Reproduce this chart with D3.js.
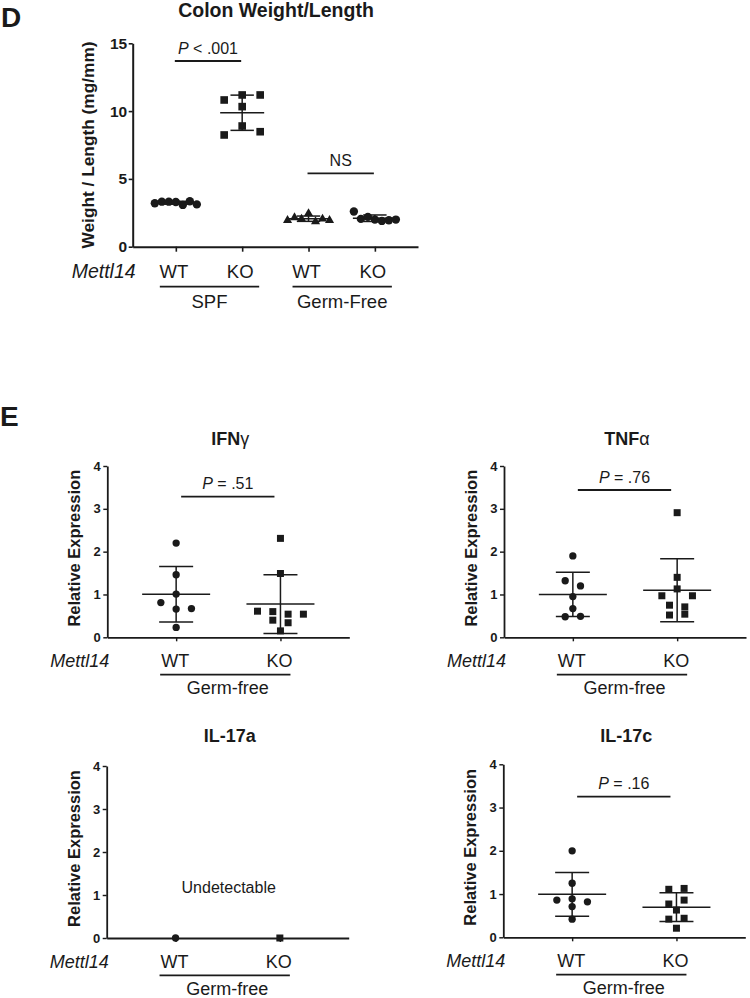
<!DOCTYPE html>
<html><head><meta charset="utf-8">
<script src="https://cdn.jsdelivr.net/npm/d3@7"></script>
<style>
body{margin:0;background:#fff}
svg{display:block}
text{font-family:"Liberation Sans",Arial,Helvetica,sans-serif;fill:#1a1a1a}
</style>
</head><body>
<svg id="chart" width="750" height="998"></svg>
<script>
// ---------------- Panel D data ----------------
const dCategories = ["SPF WT", "SPF KO", "GF WT", "GF KO"];
const dCategoryLabels = ["WT", "KO", "WT", "KO"];
const dGroupLabels = ["SPF", "Germ-Free"];
const dYTicks = [0, 5, 10, 15];
const dSpfWT = [3.2, 3.32, 3.32, 3.3, 3.08, 3.35, 3.12];
const dSpfKO = [10.82, 11.19, 11.19, 10.33, 8.24, 8.9, 8.48];
const dGfWT = [1.95, 2.15, 2.05, 2.45, 1.85, 2.05, 1.95];
const dGfKO = [2.6, 2.05, 2.2, 2.0, 1.9, 1.95, 2.0];
const dCompareLabels = ["P < .001", "NS"];

// ---------------- Panel E data ----------------
const eTitles = ["IFN|γ", "TNF|α", "IL-17a|", "IL-17c|"];
const eCategories = ["WT", "KO"];
const eGroupLabel = "Germ-free";
const eYTicks = [0, 1, 2, 3, 4];
const ifngWT = [2.2, 1.46, 1.01, 0.81, 0.66, 0.67, 0.23];
const ifngKO = [2.31, 1.49, 0.61, 0.6, 0.54, 0.54, 0.4, 0.34, 0.15];
const tnfaWT = [1.9, 1.32, 1.2, 0.95, 0.67, 0.48, 0.49];
const tnfaKO = [2.91, 1.4, 0.97, 1.13, 0.97, 0.75, 0.71, 0.52, 0.54];
const il17aWT = [0];
const il17aKO = [0];
const il17cWT = [2.0, 1.25, 0.86, 0.89, 0.82, 0.71, 0.42];
const il17cKO = [1.11, 1.13, 0.77, 0.86, 0.63, 0.42, 0.44, 0.21];
const ePValues = [".51", ".76", null, ".16"];
const eNotes = [null, null, "Undetectable", null];

// ---------------- helpers ----------------
const INK = "#1a1a1a";
const svg = d3.select("#chart");

function swarm(values, y, T, s, W) {
  const pts = values.map((v, i) => ({v, i, py: y(v), dx: 0}));
  const sorted = pts.slice().sort((a, b) => a.py - b.py);
  const rows = []; let cur = null;
  sorted.forEach(p => {
    if (cur && p.py - cur.start <= T) cur.pts.push(p);
    else { cur = {start: p.py, pts: [p]}; rows.push(cur); }
  });
  rows.forEach(r => {
    r.pts.sort((a, b) => a.i - b.i);
    const n = r.pts.length;
    const step = n > 1 ? Math.min(s, W / (n - 1)) : 0;
    r.pts.forEach((p, k) => p.dx = (k - (n - 1) / 2) * step);
  });
  return pts;
}

function styleAxis(g, w) {
  g.select(".domain").attr("stroke", INK).attr("stroke-width", w);
  g.selectAll(".tick line").attr("stroke", INK).attr("stroke-width", w * 0.8);
}

function drawGroup(g, values, cx, y, symType, symSize, meanHalf, capHalf, swarmOpts) {
  if (values.length > 1) {
    const m = d3.mean(values), sd = d3.deviation(values);
    const eb = g.append("g").attr("stroke", INK).attr("stroke-width", 1.5);
    eb.append("line").attr("x1", cx).attr("x2", cx).attr("y1", y(m + sd)).attr("y2", y(m - sd));
    eb.append("line").attr("x1", cx - meanHalf).attr("x2", cx + meanHalf).attr("y1", y(m)).attr("y2", y(m));
    [m + sd, m - sd].forEach(v => eb.append("line").attr("x1", cx - capHalf).attr("x2", cx + capHalf).attr("y1", y(v)).attr("y2", y(v)));
  }
  const pts = swarm(values, y, swarmOpts.T, swarmOpts.s, swarmOpts.W);
  g.append("g").selectAll("path").data(pts).join("path")
    .attr("d", d3.symbol().type(symType).size(symSize))
    .attr("transform", p => `translate(${cx + p.dx},${p.py})`)
    .attr("fill", INK);
}

function pText(g, x, yb, label, size) {
  const t = g.append("text").attr("x", x).attr("y", yb).attr("text-anchor", "middle").attr("font-size", size);
  if (label.startsWith("P")) {
    t.append("tspan").attr("font-style", "italic").text("P");
    t.append("tspan").text(label.slice(1));
  } else t.text(label);
}

// ================= Panel D =================
const gD = svg.append("g");
gD.append("text").attr("x", 1).attr("y", 27).attr("font-size", 28).attr("font-weight", "bold").text("D");
gD.append("text").attr("x", 276).attr("y", 17).attr("text-anchor", "middle")
  .attr("font-size", 19.5).attr("font-weight", "bold").text("Colon Weight/Length");

const dAxX = 132.7, dY0 = 246.7, dYTop = 43.3, dXEnd = 418;
const dy = d3.scaleLinear().domain([0, 15]).range([dY0, dYTop]);
const dx = d3.scalePoint().domain(dCategories).range([dAxX, dXEnd]).padding(0.65);

const dyAxis = gD.append("g").attr("transform", `translate(${dAxX},0)`)
  .call(d3.axisLeft(dy).tickValues(dYTicks).tickFormat(d3.format("d")).tickSize(4).tickSizeOuter(0).tickPadding(1.5));
styleAxis(dyAxis, 2);
dyAxis.selectAll(".tick text").attr("font-size", 15.5).attr("font-weight", "bold").attr("fill", INK)
  .attr("font-family", '"Liberation Sans",Arial,sans-serif');

const dxAxis = gD.append("g").attr("transform", `translate(0,${dY0})`)
  .call(d3.axisBottom(dx).tickSize(5).tickSizeOuter(0).tickFormat(""));
styleAxis(dxAxis, 2);

gD.append("text").attr("transform", `translate(94,145) rotate(-90)`).attr("text-anchor", "middle")
  .attr("font-size", 17.3).attr("font-weight", "bold").text("Weight / Length (mg/mm)");

const dSw = {T: 10, s: 18, W: 42};
drawGroup(gD, dSpfWT, dx("SPF WT"), dy, d3.symbolCircle, 55, 22, 11.7, dSw);
drawGroup(gD, dSpfKO, dx("SPF KO"), dy, d3.symbolSquare, 58, 22, 11.7, dSw);
drawGroup(gD, dGfWT, dx("GF WT"), dy, d3.symbolTriangle, 36, 22, 11.7, dSw);
drawGroup(gD, dGfKO, dx("GF KO"), dy, d3.symbolCircle, 55, 22, 11.7, dSw);

// comparison bars
[[0, 1, 61, dCompareLabels[0]], [2, 3, 173.3, dCompareLabels[1]]].forEach(([a, b, ly, lab]) => {
  const x1 = dx(dCategories[a]) - 1, x2 = dx(dCategories[b]) - 1;
  gD.append("line").attr("x1", x1).attr("x2", x2).attr("y1", ly).attr("y2", ly).attr("stroke", INK).attr("stroke-width", 1.8);
  pText(gD, (x1 + x2) / 2, ly - 7, lab, 16);
});

// category labels
gD.append("text").attr("x", 71.7).attr("y", 277.7).attr("font-size", 19.5).attr("font-style", "italic").text("Mettl14");
gD.selectAll("text.dcat").data(dCategories).join("text").attr("class", "dcat")
  .attr("x", c => dx(c) - 2).attr("y", 277.7).attr("text-anchor", "middle").attr("font-size", 18.5)
  .text((c, i) => dCategoryLabels[i]);
dGroupLabels.forEach((lab, gi) => {
  const x1 = dx(dCategories[gi * 2]) - 16, x2 = dx(dCategories[gi * 2 + 1]) + 17;
  gD.append("line").attr("x1", x1).attr("x2", x2).attr("y1", 286.7).attr("y2", 286.7).attr("stroke", INK).attr("stroke-width", 1.8);
  gD.append("text").attr("x", (x1 + x2) / 2).attr("y", 308.3).attr("text-anchor", "middle").attr("font-size", 18.5).text(lab);
});

// ================= Panel E =================
svg.append("text").attr("x", 0).attr("y", 426).attr("font-size", 28).attr("font-weight", "bold").text("E");

const ePanels = [
  {ax: 107.3, y0: 637.3, y4: 466, wt: ifngWT, ko: ifngKO, pLine: 496.7, titleY: 445},
  {ax: 504, y0: 637.3, y4: 466, wt: tnfaWT, ko: tnfaKO, pLine: 490, titleY: 444.5},
  {ax: 106.7, y0: 938, y4: 766, wt: il17aWT, ko: il17aKO, pLine: null, titleY: 741.5},
  {ax: 503.3, y0: 937.3, y4: 764.3, wt: il17cWT, ko: il17cKO, pLine: 796.7, titleY: 741.5}
];
const eSw = {T: 7, s: 15.3, W: 46};

ePanels.forEach((P, k) => {
  const g = svg.append("g");
  const y = d3.scaleLinear().domain([0, 4]).range([P.y0, P.y4]);
  const x = d3.scalePoint().domain(eCategories).range([P.ax, P.ax + 242]).padding(0.66);

  // title
  const [tMain, tGreek] = eTitles[k].split("|");
  const tt = g.append("text").attr("x", P.ax + 123).attr("y", P.titleY).attr("text-anchor", "middle")
    .attr("font-size", 18).attr("font-weight", "bold");
  tt.append("tspan").text(tMain);
  if (tGreek) tt.append("tspan").attr("font-weight", "normal").attr("font-size", 18).text(tGreek);

  const ya = g.append("g").attr("transform", `translate(${P.ax},0)`)
    .call(d3.axisLeft(y).tickValues(eYTicks).tickFormat(d3.format("d")).tickSize(4).tickSizeOuter(0).tickPadding(2.5));
  styleAxis(ya, 1.8);
  ya.selectAll(".tick text").attr("font-size", 13).attr("font-weight", "bold").attr("fill", INK)
    .attr("font-family", '"Liberation Sans",Arial,sans-serif');

  const xa = g.append("g").attr("transform", `translate(0,${P.y0})`)
    .call(d3.axisBottom(x).tickSize(4).tickSizeOuter(0).tickFormat(""));
  styleAxis(xa, 1.8);

  g.append("text").attr("transform", `translate(${P.ax - 27},${(P.y0 + P.y4) / 2 - 3.5}) rotate(-90)`)
    .attr("text-anchor", "middle").attr("font-size", 16.5).attr("font-weight", "bold").text("Relative Expression");

  drawGroup(g, P.wt, x("WT"), y, d3.symbolCircle, 42, 34, 17, eSw);
  drawGroup(g, P.ko, x("KO"), y, d3.symbolSquare, 49, 34, 17, eSw);

  if (ePValues[k]) {
    const x1 = x("WT") + 5, x2 = x("KO") - 6;
    g.append("line").attr("x1", x1).attr("x2", x2).attr("y1", P.pLine).attr("y2", P.pLine)
      .attr("stroke", INK).attr("stroke-width", 1.8);
    const t = g.append("text").attr("x", (x1 + x2) / 2).attr("y", P.pLine - 7.5).attr("text-anchor", "middle").attr("font-size", 16);
    t.append("tspan").attr("font-style", "italic").text("P");
    t.append("tspan").text(" = " + ePValues[k]);
  }
  if (eNotes[k]) {
    g.append("text").attr("x", P.ax + 122).attr("y", P.y0 - 45.5).attr("text-anchor", "middle")
      .attr("font-size", 16).text(eNotes[k]);
  }

  g.append("text").attr("x", P.ax - 57).attr("y", P.y0 + 29.5).attr("font-size", 18).attr("font-style", "italic").text("Mettl14");
  g.selectAll("text.ecat").data(eCategories).join("text").attr("class", "ecat")
    .attr("x", c => x(c) - 1).attr("y", P.y0 + 29.5).attr("text-anchor", "middle").attr("font-size", 18).text(c => c);
  const gx1 = x("WT") - 16, gx2 = x("KO") + 10;
  g.append("line").attr("x1", gx1).attr("x2", gx2).attr("y1", P.y0 + 37.3).attr("y2", P.y0 + 37.3)
    .attr("stroke", INK).attr("stroke-width", 1.8);
  g.append("text").attr("x", (gx1 + gx2) / 2 + 2.5).attr("y", P.y0 + 57).attr("text-anchor", "middle")
    .attr("font-size", 18).text(eGroupLabel);
});
</script>
</body></html>
